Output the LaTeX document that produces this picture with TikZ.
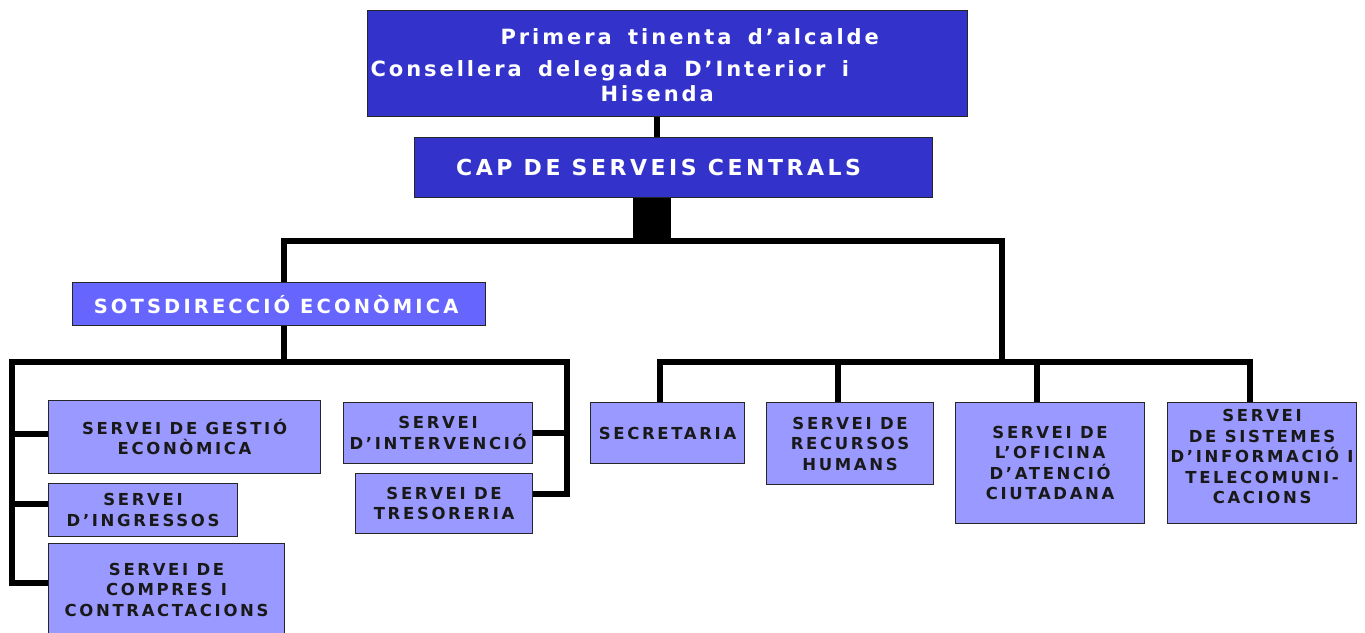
\documentclass[tikz,border=0pt]{standalone}
\usepackage{fontspec}
\setmainfont{DejaVu Sans}
\newfontfamily\orgfont[LetterSpace=16]{DejaVu Sans}
\newfontfamily\headfont[LetterSpace=14, WordSpace=1.6]{DejaVu Sans}
\usetikzlibrary{positioning, calc}
\definecolor{chiefblue}{RGB}{51, 51, 204}
\definecolor{subblue}{RGB}{102, 102, 255}
\definecolor{unitblue}{RGB}{153, 153, 255}

\begin{document}
\begin{tikzpicture}[
        x=1pt, y=-1pt,
        box/.style={draw=black!85, line width=1.2pt, anchor=north west, inner sep=0pt, align=center},
        unit/.style={box, fill=unitblue, text=black!90, font=\orgfont\bfseries\fontsize{16.5}{20.5}\selectfont},
        link/.style={line width=6pt, line join=miter},
        block/.style={line width=38pt}
    ]
        \useasboundingbox (0,0) rectangle (1365,632);

        % Head
        \node[box, fill=chiefblue, text=white, align=flush left, text width=600, minimum height=106,
              font=\headfont\bfseries\fontsize{21}{25}\selectfont] (chief) at (367,10)
              {\rule{0pt}{20pt}\hspace*{133pt}Primera tinenta d’alcalde\\[7pt]
               \hspace*{3pt}Consellera delegada D’Interior i\\
               \hspace*{233pt}Hisenda};

        % Central services
        \node[box, fill=chiefblue, text=white, minimum width=518, minimum height=60,
              font=\orgfont\bfseries\fontsize{22}{26}\selectfont] (central) at (414,137)
              {CAP DE SERVEIS CENTRALS\hspace*{30pt}};

        % Economic sub-direction
        \node[box, fill=subblue, text=white, minimum width=413, minimum height=43,
              font=\orgfont\bfseries\fontsize{19.5}{24}\selectfont] (sotsdir) at (72,282)
              {SOTSDIRECCIÓ ECONÒMICA\hspace*{6pt}};

        % Left units
        \node[unit, minimum width=272, minimum height=73] (gestio) at (48,400) {SERVEI DE GESTIÓ\\ECONÒMICA};
        \node[unit, minimum width=189, minimum height=53] (ingres) at (48,483) {SERVEI\\D’INGRESSOS};
        \node[unit, minimum width=236, minimum height=92] (compres) at (48,543) {SERVEI DE\\COMPRES I\\CONTRACTACIONS};
        \node[unit, minimum width=189, minimum height=61] (interv) at (343,402) {SERVEI\\D’INTERVENCIÓ};
        \node[unit, minimum width=177, minimum height=60] (tresor) at (355,473) {SERVEI DE\\TRESORERIA};

        % Right units
        \node[unit, minimum width=154, minimum height=61] (secre) at (590,402) {SECRETARIA};
        \node[unit, minimum width=167, minimum height=82] (rrhh) at (766,402) {SERVEI DE\\RECURSOS\\HUMANS};
        \node[unit, minimum width=189, minimum height=121] (ofic) at (955,402) {SERVEI DE\\L’OFICINA\\D’ATENCIÓ\\CIUTADANA};
        \node[unit, minimum width=189, minimum height=121] (sist) at (1167,402)
              {SERVEI\\DE SISTEMES\\D’INFORMACIÓ I\\TELECOMUNI-\\CACIONS\\[-8pt]};

        % Bus points
        \coordinate (hub) at (652,241);
        \coordinate (mainL) at (284,241);
        \coordinate (mainR) at (1002,241);
        \coordinate (lbusL) at (12,362);
        \coordinate (lbusR) at (567,362);
        \coordinate (rbusL) at (660,362);
        \coordinate (rbusR) at (1250,362);

        % Lines
        \draw[link] (chief.south -| 657,0) -- (central.north -| 657,0);
        \draw[block] (hub |- central.south) -- (hub);
        \draw[link] (mainL |- sotsdir.north) -- (mainL) -- (mainR) -- (mainR |- rbusL);

        \draw[link] (mainL |- sotsdir.south) -- (mainL |- lbusL);
        \draw[link] ([yshift=7pt]compres.west) -| (lbusL) -- (lbusR) |- ([yshift=10pt]tresor.east);
        \draw[link] ([yshift=3pt]gestio.west) -- ([yshift=3pt]gestio.west -| lbusL);
        \draw[link] ([yshift=6pt]ingres.west) -- ([yshift=6pt]ingres.west -| lbusL);
        \draw[link] (interv.east) -- (interv.east -| lbusR);

        \draw[link] (rbusL |- secre.north) -- (rbusL) -- (rbusR) -- (rbusR |- sist.north);
        \draw[link] (rrhh.north -| 838,0) -- (838,362);
        \draw[link] (ofic.north -| 1037,0) -- (1037,362);
    \end{tikzpicture}
\end{document}
